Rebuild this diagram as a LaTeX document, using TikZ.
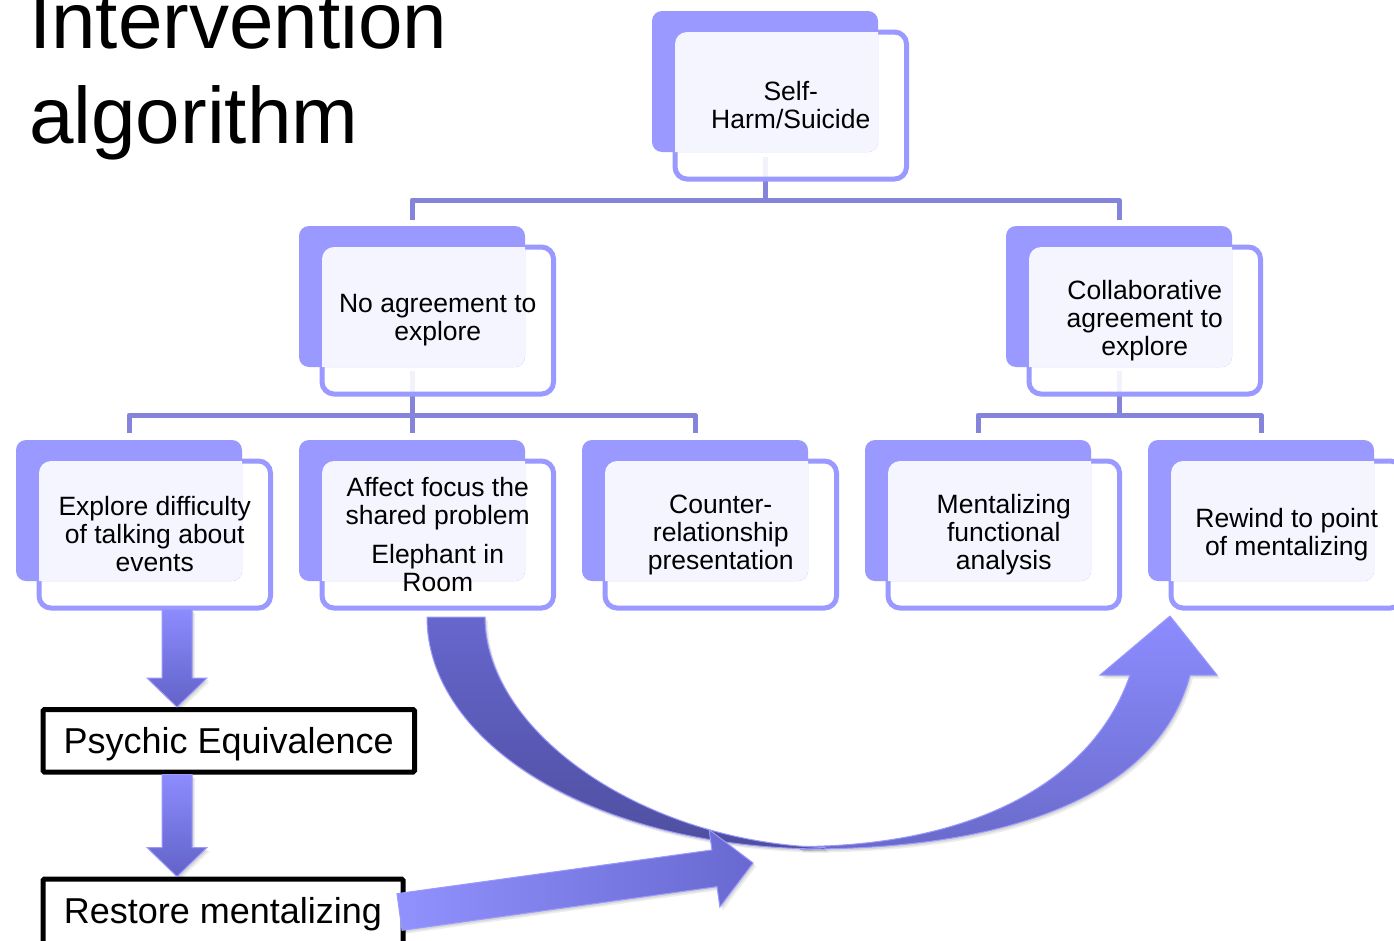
\documentclass[tikz,border=0pt]{standalone}
\usepackage{fontspec}
\setmainfont{Liberation Sans}
\usetikzlibrary{calc}

\definecolor{peri}{HTML}{9999FF}
\definecolor{linkc}{HTML}{8484DA}
\definecolor{arrtop}{HTML}{8C8CFF}
\definecolor{arrbot}{HTML}{6262C8}

\tikzset{
  backslot/.style={rectangle, minimum width=226pt, minimum height=141pt,
    inner sep=0pt, outer sep=0pt, anchor=north west},
  framebox/.style={draw=peri, line width=5pt, fill=white, fill opacity=0.9,
    rounded corners=12pt, minimum width=231.5pt, minimum height=147pt,
    inner sep=0pt, outer sep=0pt, anchor=north west},
  boxtext/.style={align=center, inner sep=0pt,
    font=\fontsize{26.5pt}{28pt}\selectfont},
  link/.style={draw=linkc, line width=5pt, line join=round},
  plainbox/.style={draw=black, line width=5pt, rounded corners=1.5pt,
    inner sep=0pt, text height=26pt, font=\fontsize{36pt}{40pt}\selectfont},
  arrowedge/.style={draw=peri, line width=1pt},
  softshadow/.style={
    preaction={fill=black, fill opacity=0.07, draw=none,
      transform canvas={shift={(3pt,-3.5pt)}}},
    preaction={fill=black, fill opacity=0.09, draw=none,
      transform canvas={shift={(1.5pt,-2pt)}}}},
  titletext/.style={anchor=base west, inner sep=0pt,
    font=\fontsize{80pt}{93pt}\selectfont},
}

% reserve the place of a hierarchy box: name, top-left x, top-left y
\newcommand\orgslot[3]{\path node[backslot] (#1) at (#2,#3) {};}

% draw a reserved hierarchy box with its text
\newcommand\orgbox[2]{%
  \node[framebox] (#1-o) at ([xshift=23pt,yshift=-21pt]#1.north west) {};
  \fill[peri, rounded corners=10pt] (#1.south west) rectangle (#1.north east);
  \begin{scope}
    \clip[rounded corners=10pt] (#1.south west) rectangle (#1.north east);
    \fill[white, fill opacity=0.9, rounded corners=12pt]
      (#1-o.south west) rectangle (#1-o.north east);
  \end{scope}
  \node[boxtext] (#1-t) at (#1-o.center) {#2};
}

% thick downward block arrow from #1 (top centre) to #2 (tip)
\newcommand\dropblock[2]{%
  \shade[softshadow, arrowedge, top color=arrtop, bottom color=arrbot]
    let \p1=#1, \p2=#2 in
    (\x1-15pt,\y1) -- (\x1+15pt,\y1) -- (\x1+15pt,\y2+29pt) -- (\x1+30pt,\y2+29pt)
    -- (\x2,\y2) -- (\x1-30pt,\y2+29pt) -- (\x1-15pt,\y2+29pt) -- cycle;
}

\begin{document}
\begin{tikzpicture}[x=1pt, y=-1pt]
\fill[white] (0,0) rectangle (1394,940);
\useasboundingbox (0,0) rectangle (1394,940);

% title
\node[titletext] (title1) at (29,48) {Intervention};
\node[titletext] (title2) at (29,143) {algorithm};

% places of the hierarchy boxes
\orgslot{top}{652}{11}
\orgslot{l2a}{299}{226}
\orgslot{l2b}{1006}{226}
\orgslot{l3a}{16}{440}
\orgslot{l3b}{299}{440}
\orgslot{l3c}{582}{440}
\orgslot{l3d}{865}{440}
\orgslot{l3e}{1148}{440}

% connectors, drawn beneath the boxes
\coordinate (busA) at (0,200);
\coordinate (busB) at (0,415);
\draw[link] ([yshift=-5pt]top.south) -- (top.south |- busA);
\draw[link] ([yshift=6pt]l2a.north) -- (l2a.north |- busA)
  -- (l2b.north |- busA) -- ([yshift=6pt]l2b.north);
\draw[link] ([yshift=-4pt]l2a.south) -- (l2a.south |- busB);
\draw[link] ([yshift=7pt]l3a.north) -- (l3a.north |- busB)
  -- (l3c.north |- busB) -- ([yshift=7pt]l3c.north);
\draw[link] ([yshift=7pt]l3b.north) -- (l3b.north |- busB);
\draw[link] ([yshift=-4pt]l2b.south) -- (l2b.south |- busB);
\draw[link] ([yshift=7pt]l3d.north) -- (l3d.north |- busB)
  -- (l3e.north |- busB) -- ([yshift=7pt]l3e.north);

% hierarchy boxes
\orgbox{top}{Self-\\Harm/Suicide}
\orgbox{l2a}{No agreement to\\explore}
\orgbox{l2b}{Collaborative\\agreement to\\explore}
\orgbox{l3a}{Explore difficulty\\of talking about\\events}
\orgbox{l3b}{Affect focus the\\shared problem\\[11pt]Elephant in\\Room}
\orgbox{l3c}{Counter-\\relationship\\presentation}
\orgbox{l3d}{Mentalizing\\functional\\analysis}
\orgbox{l3e}{Rewind to point\\of mentalizing}

% states below the hierarchy
\node[plainbox, minimum width=371.5pt, minimum height=62.5pt, text depth=1.5pt]
  (psy) at (228.75,740.75) {Psychic Equivalence};
\node[plainbox, minimum width=360pt, minimum height=66pt, text depth=4pt]
  (rest) at (223,912) {Restore mentalizing};

% downward block arrows
\coordinate (a1s) at ($(l3a-o.south)+(22.25,1)$);
\coordinate (a1t) at (a1s |- psy.north);
\coordinate (a2s) at (a1s |- psy.south);
\coordinate (a2t) at (a1s |- rest.north);
\dropblock{(a1s)}{(a1t)}
\dropblock{(a2s)}{(a2t)}

% big curved arrow: rising right half with head
\shade[softshadow, arrowedge, top color=arrtop, bottom color=arrbot!95!white]
  (800,849) .. controls (1020,850) and (1160,790) .. (1190,675)
  -- (1217,675) -- (1170,616) -- (1100,675) -- (1130,675)
  .. controls (1090,790) and (960,846) .. (800,846.5) -- cycle;
% descending left half
\shade[softshadow, arrowedge, top color=arrbot!90!arrtop, bottom color=arrbot!80!black]
  (427,617) .. controls (427,745) and (598,849) .. (825,849)
  -- (825,847.5) .. controls (640,842) and (485,730) .. (485,617) -- cycle;

% straight arrow leaving the restore box
\begin{scope}[shift={([xshift=-6pt]rest.east)}, rotate=7.9]
  \shade[softshadow, arrowedge, left color=arrtop!95!white, right color=arrbot!85!arrtop]
    (0,-18.5) -- (318,-18.5) -- (318,-39) -- (357,0) -- (318,39)
    -- (318,18.5) -- (0,18.5) -- cycle;
\end{scope}
\end{tikzpicture}
\end{document}
